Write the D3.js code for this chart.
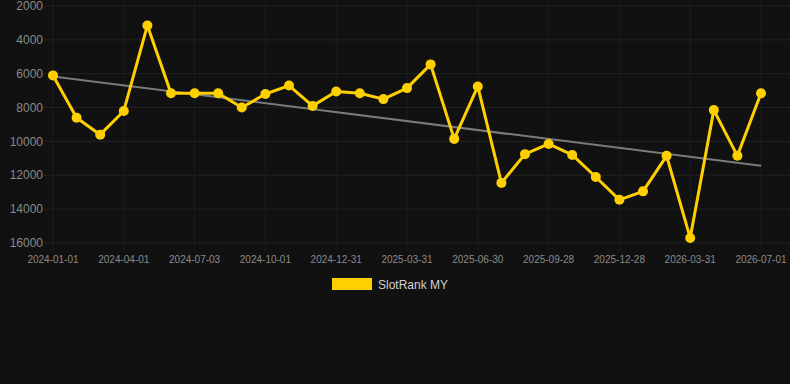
<!DOCTYPE html>
<html>
<head>
<meta charset="utf-8">
<script src="https://cdn.jsdelivr.net/npm/d3@7"></script>
<style>
  html, body { margin: 0; padding: 0; background: #111111; }
  svg { display: block; }
</style>
</head>
<body>
<svg id="chart"></svg>
<script>
// monthly points, 2024-01 .. 2026-07
const months = d3.range(31).map((i) => d3.timeFormat("%Y-%m")(d3.timeMonth.offset(new Date(2024, 0, 1), i)));
const ranks = [
  6100, 8600, 9600, 8200, 3150, 7150, 7150, 7150, 8000, 7200, 6700, 7900,
  7050, 7150, 7500, 6850, 5450, 9850, 6750, 12450, 10750, 10150, 10800, 12100,
  13450, 12950, 10850, 15700, 8150, 10850, 7150,
];
const xTickLabels = [
  "2024-01-01", "2024-04-01", "2024-07-03", "2024-10-01", "2024-12-31",
  "2025-03-31", "2025-06-30", "2025-09-28", "2025-12-28", "2026-03-31", "2026-07-01",
];
const yTicks = [2000, 4000, 6000, 8000, 10000, 12000, 14000, 16000];
const seriesName = "SlotRank MY";

const width = 790;
const height = 384;
const margin = { top: 6, right: 29, bottom: 141, left: 53 };
const chartWidth = width - margin.left - margin.right;
const chartHeight = height - margin.top - margin.bottom;

const gold = "#ffd000";
const tickColor = "#8a8a8a";

const data = months.map((m, i) => ({ month: m, i: i, value: ranks[i] }));

const x = d3.scaleLinear().domain([0, months.length - 1]).range([0, chartWidth]);
const y = d3.scaleLinear().domain([2000, 16000]).range([0, chartHeight]);

// least squares trend
const n = data.length;
const mx = d3.mean(data, (d) => d.i);
const my = d3.mean(data, (d) => d.value);
const slope = d3.sum(data, (d) => (d.i - mx) * (d.value - my)) / d3.sum(data, (d) => (d.i - mx) ** 2);
const intercept = my - slope * mx;
const trend = [0, n - 1].map((i) => ({ i: i, value: intercept + slope * i }));

const svgRoot = d3.select("#chart").attr("width", width).attr("height", height);

svgRoot.append("rect").attr("width", width).attr("height", height).attr("fill", "#111111");

const svg = svgRoot.append("g").attr("transform", `translate(${margin.left},${margin.top})`);

const tickIdx = xTickLabels.map((_, k) => k * 3);

// grid
const grid = svg.append("g").attr("id", "grid");
grid.selectAll("line.v")
  .data(tickIdx)
  .join("line")
  .attr("class", "v")
  .attr("x1", (d) => x(d))
  .attr("x2", (d) => x(d))
  .attr("y1", -margin.top)
  .attr("y2", chartHeight + 7)
  .attr("stroke", "#1c1c1c")
  .attr("stroke-width", 1);
grid.selectAll("line.h")
  .data(yTicks)
  .join("line")
  .attr("class", "h")
  .attr("x1", -9)
  .attr("x2", width - margin.left)
  .attr("y1", (d) => y(d))
  .attr("y2", (d) => y(d))
  .attr("stroke", "#232323")
  .attr("stroke-width", 1);

// y labels
svg.append("g")
  .selectAll("text")
  .data(yTicks)
  .join("text")
  .attr("x", -10)
  .attr("y", (d) => y(d))
  .attr("dy", "0.35em")
  .attr("text-anchor", "end")
  .attr("font-family", "Arial, Liberation Sans, sans-serif")
  .attr("font-size", 12)
  .attr("fill", tickColor)
  .text((d) => d);

// x labels
svg.append("g")
  .selectAll("text")
  .data(tickIdx)
  .join("text")
  .attr("x", (d) => x(d))
  .attr("y", chartHeight + 20)
  .attr("text-anchor", "middle")
  .attr("font-family", "Arial, Liberation Sans, sans-serif")
  .attr("font-size", 10)
  .attr("fill", tickColor)
  .text((d, k) => xTickLabels[k]);

// trend line
svg.append("path")
  .datum(trend)
  .attr("fill", "none")
  .attr("stroke", "#7a7a7a")
  .attr("stroke-width", 2)
  .attr("d", d3.line().x((d) => x(d.i)).y((d) => y(d.value)));

// series
svg.append("path")
  .datum(data)
  .attr("fill", "none")
  .attr("stroke", gold)
  .attr("stroke-width", 3)
  .attr("stroke-linejoin", "round")
  .attr("d", d3.line().x((d) => x(d.i)).y((d) => y(d.value)));

svg.append("g")
  .selectAll("circle")
  .data(data)
  .join("circle")
  .attr("cx", (d) => x(d.i))
  .attr("cy", (d) => y(d.value))
  .attr("r", 5)
  .attr("fill", gold);

// legend
const legend = svgRoot.append("g").attr("transform", "translate(332,278)");
legend.append("rect").attr("width", 40).attr("height", 12).attr("fill", gold);
legend.append("text")
  .attr("x", 46)
  .attr("y", 10.5)
  .attr("font-family", "Arial, Liberation Sans, sans-serif")
  .attr("font-size", 12)
  .attr("fill", "#d0d0d0")
  .text(seriesName);
</script>
</body>
</html>
